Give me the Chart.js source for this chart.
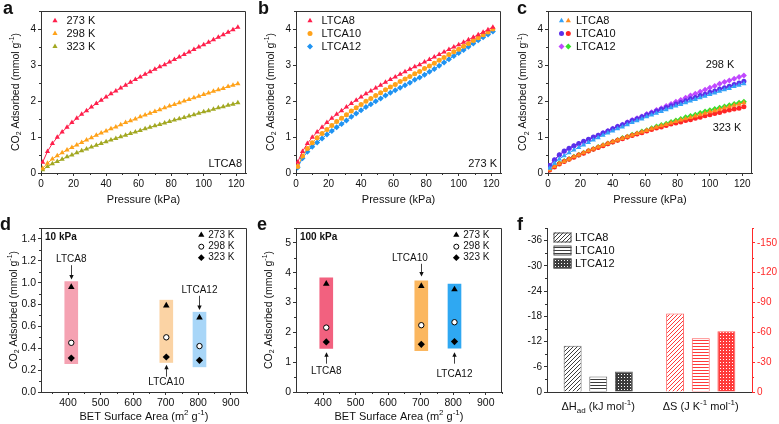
<!DOCTYPE html>
<html>
<head>
<meta charset="utf-8">
<script src="https://cdn.jsdelivr.net/npm/chart.js@4.4.0/dist/chart.umd.min.js"></script>
<style>
  body { margin: 0; background: #fff; width: 779px; height: 424px; position: relative; overflow: hidden; }
  canvas { position: absolute; }
</style>
</head>
<body>
<canvas id="ca" width="255" height="205" style="left:0;top:0"></canvas>
<canvas id="cb" width="260" height="205" style="left:255px;top:0"></canvas>
<canvas id="cc" width="264" height="205" style="left:515px;top:0"></canvas>
<canvas id="cd" width="255" height="219" style="left:0;top:205px"></canvas>
<canvas id="ce" width="260" height="219" style="left:255px;top:205px"></canvas>
<canvas id="cf" width="264" height="219" style="left:515px;top:205px"></canvas>
<script>
// pressures (kPa) of the isotherm points
const pressure = [1,4,7,10,13,16,19,22,25,28,31,34,37,40,43,46,49,52,55,58,61,64,67,70,73,76,79,82,85,88,91,94,97,100,103,106,109,112,115,118,121];

// CO2 uptake, mmol/g
const ltca8_273 = [0.30,0.60,0.82,0.99,1.14,1.27,1.40,1.52,1.63,1.73,1.83,1.93,2.02,2.11,2.20,2.28,2.36,2.44,2.52,2.60,2.67,2.74,2.81,2.88,2.95,3.01,3.08,3.15,3.22,3.29,3.36,3.43,3.50,3.56,3.63,3.70,3.77,3.84,3.91,3.98,4.05];
const ltca8_298 = [0.13,0.27,0.39,0.48,0.56,0.64,0.71,0.78,0.85,0.92,0.98,1.05,1.11,1.17,1.23,1.28,1.34,1.40,1.45,1.50,1.56,1.61,1.66,1.71,1.76,1.81,1.86,1.90,1.95,2.00,2.04,2.09,2.13,2.18,2.22,2.27,2.31,2.35,2.40,2.44,2.48];
const ltca8_323 = [0.09,0.18,0.26,0.32,0.38,0.45,0.50,0.56,0.62,0.67,0.72,0.77,0.82,0.87,0.92,0.96,1.01,1.05,1.10,1.14,1.18,1.23,1.27,1.31,1.35,1.39,1.43,1.47,1.51,1.54,1.58,1.62,1.66,1.70,1.73,1.77,1.81,1.84,1.88,1.91,1.95];
const ltca10_273 = [0.18,0.47,0.68,0.84,0.98,1.10,1.21,1.32,1.43,1.52,1.62,1.72,1.81,1.90,1.99,2.07,2.15,2.23,2.31,2.39,2.46,2.54,2.61,2.68,2.76,2.82,2.90,2.97,3.05,3.13,3.21,3.29,3.37,3.44,3.52,3.60,3.68,3.76,3.84,3.92,4.00];
const ltca12_273 = [0.15,0.41,0.59,0.73,0.85,0.96,1.07,1.17,1.27,1.36,1.46,1.56,1.65,1.74,1.83,1.91,1.99,2.07,2.15,2.23,2.30,2.37,2.44,2.51,2.59,2.65,2.73,2.81,2.89,2.98,3.07,3.16,3.25,3.33,3.42,3.51,3.60,3.69,3.77,3.85,3.93];
const ltca10_298 = [0.21,0.37,0.51,0.61,0.69,0.76,0.82,0.88,0.94,1.00,1.05,1.11,1.17,1.23,1.29,1.34,1.40,1.46,1.51,1.56,1.62,1.67,1.72,1.77,1.82,1.87,1.92,1.96,2.01,2.06,2.10,2.15,2.19,2.24,2.28,2.33,2.37,2.41,2.46,2.50,2.55];
const ltca12_298 = [0.19,0.35,0.49,0.59,0.67,0.74,0.80,0.86,0.92,0.98,1.04,1.11,1.17,1.23,1.29,1.34,1.41,1.47,1.52,1.57,1.64,1.69,1.75,1.80,1.86,1.92,1.98,2.03,2.09,2.15,2.20,2.26,2.31,2.37,2.42,2.48,2.53,2.57,2.62,2.67,2.71];
const ltca10_323 = [0.08,0.17,0.25,0.32,0.38,0.44,0.50,0.55,0.61,0.66,0.71,0.76,0.81,0.86,0.91,0.95,1.00,1.04,1.08,1.12,1.17,1.21,1.25,1.28,1.32,1.36,1.39,1.42,1.46,1.48,1.52,1.55,1.59,1.62,1.65,1.68,1.72,1.75,1.78,1.80,1.84];
const ltca12_323 = [0.10,0.19,0.27,0.33,0.39,0.45,0.51,0.56,0.62,0.67,0.72,0.77,0.82,0.87,0.92,0.97,1.01,1.06,1.10,1.15,1.19,1.24,1.29,1.33,1.37,1.42,1.46,1.50,1.55,1.58,1.62,1.67,1.71,1.74,1.78,1.81,1.85,1.88,1.92,1.95,1.98];

// BET surface area vs uptake (panels d, e)
const samples = ['LTCA8', 'LTCA10', 'LTCA12'];
const bet = [410, 702, 804];
const q10_273 = [0.96, 0.79, 0.68];
const q10_298 = [0.45, 0.50, 0.42];
const q10_323 = [0.31, 0.32, 0.29];
const band10Low = [0.26, 0.27, 0.23];
const band10High = [1.01, 0.84, 0.73];
const q100_273 = [3.63, 3.55, 3.44];
const q100_298 = [2.16, 2.24, 2.34];
const q100_323 = [1.68, 1.60, 1.69];
const band100Low = [1.46, 1.39, 1.47];
const band100High = [3.83, 3.73, 3.62];

// thermodynamics (panel f)
const params = ['dH', 'dS'];
const deltaH = [-11.0, -3.7, -4.9];   // kJ/mol
const deltaS = [-79, -54, -61];       // J/K/mol

const FONT = '"Liberation Sans", Arial, sans-serif';
Chart.defaults.font.family = FONT;
Chart.defaults.color = '#111';
Chart.defaults.animation = false;

const RED = '#ff1f4b', ORANGE = '#ffa21a', OLIVE = '#a2a822', BLUE = '#1f93f2';
const C_BLUE = '#35a2f7', C_ORANGE = '#ff8d1e', C_INDIGO = '#5a30ea', C_RED = '#ff2626', C_VIOLET = '#c048ff', C_GREEN = '#36e02c';

const CO2 = [['CO'], ['2', 'sub'], [' Adsorbed (mmol g'], ['-1', 'sup'], [')']];

function pts(ys) { return pressure.map((p, i) => ({ x: p, y: ys[i] })); }

function iso(label, ys, color, style, r) {
  return {
    label, data: pts(ys), showLine: true, borderColor: color, borderWidth: 1,
    backgroundColor: color, pointStyle: style, pointRadius: r, pointBorderWidth: 0,
    pointBackgroundColor: color
  };
}

function axis(pos, min, max, step, size, extra) {
  const a = {
    type: 'linear', position: pos, min, max,
    grid: { drawOnChartArea: false, tickLength: 3, tickColor: '#333', tickWidth: 1 },
    border: { color: '#333', width: 1 },
    ticks: { stepSize: step, includeBounds: false, autoSkip: false, maxRotation: 0, padding: 2, color: '#111', font: { size: 10 } },
    afterFit: s => { if (pos === 'bottom') s.height = size; else s.width = size; }
  };
  return Object.assign(a, extra || {});
}

function options(scales, pad, deco) {
  return {
    responsive: false, events: [],
    layout: { padding: Object.assign({ left: 0, right: 0, top: 0, bottom: 0 }, pad) },
    scales,
    plugins: { legend: { display: false }, tooltip: { enabled: false }, deco }
  };
}

// rich text with sub/superscripts
function drawRich(ctx, parts, x, y, o) {
  if (typeof parts === 'string') parts = [[parts]];
  const size = o.size || 11, w8 = o.bold ? 'bold ' : '';
  const main = w8 + size + 'px ' + FONT, small = w8 + Math.round(size * 0.7) + 'px ' + FONT;
  let w = 0;
  parts.forEach(([s, m]) => { ctx.font = m ? small : main; w += ctx.measureText(s).width; });
  ctx.save();
  ctx.translate(x, y);
  if (o.rot) ctx.rotate(o.rot);
  let cx = o.align === 'center' ? -w / 2 : o.align === 'right' ? -w : 0;
  ctx.fillStyle = o.color || '#111';
  ctx.textBaseline = o.bl || 'middle';
  ctx.textAlign = 'left';
  parts.forEach(([s, m]) => {
    ctx.font = m ? small : main;
    const dy = m === 'sub' ? size * 0.3 : m === 'sup' ? -size * 0.35 : 0;
    ctx.fillText(s, cx, dy);
    cx += ctx.measureText(s).width;
  });
  ctx.restore();
}

function hatch(kind, color) {
  const c = document.createElement('canvas');
  const n = kind === 'diag' ? 4 : 3;
  c.width = n; c.height = n;
  const g = c.getContext('2d');
  g.fillStyle = '#fff'; g.fillRect(0, 0, n, n);
  g.fillStyle = color;
  if (kind === 'diag') { for (let i = 0; i < n; i++) g.fillRect(i, n - 1 - i, 1, 1); }
  else if (kind === 'horiz') { g.fillRect(0, 0, n, 1); }
  else { g.fillRect(0, 0, n, n); g.fillStyle = '#fff'; g.fillRect(1, 1, 1, 1); }
  return g.createPattern(c, 'repeat');
}

const deco = {
  id: 'deco',
  afterDraw(chart, args, o) {
    const ctx = chart.ctx, a = chart.chartArea;
    ctx.save();
    ctx.lineWidth = 1;
    if (o.frame) {
      ctx.strokeStyle = '#333';
      ctx.beginPath();
      ctx.moveTo(a.left, Math.round(a.top) + 0.5);
      ctx.lineTo(Math.round(a.right) - 0.5, Math.round(a.top) + 0.5);
      ctx.lineTo(Math.round(a.right) - 0.5, a.bottom);
      ctx.stroke();
    }
    (o.minor || []).forEach(id => {
      const s = chart.scales[id];
      if (s.ticks.length < 2) return;
      const major = Math.abs(s.ticks[1].value - s.ticks[0].value), step = major / 2;
      const lo = Math.min(s.min, s.max), hi = Math.max(s.min, s.max);
      ctx.strokeStyle = s.options.border.color;
      ctx.beginPath();
      for (let v = Math.ceil(lo / step - 1e-9) * step; v <= hi + 1e-9; v += step) {
        if (Math.abs(v / major - Math.round(v / major)) < 1e-6) continue;
        const p = Math.round(s.getPixelForValue(v)) + 0.5;
        if (s.isHorizontal()) { ctx.moveTo(p, s.top); ctx.lineTo(p, s.top + 2); }
        else if (s.position === 'left') { ctx.moveTo(s.right, p); ctx.lineTo(s.right - 2, p); }
        else { ctx.moveTo(s.left, p); ctx.lineTo(s.left + 2, p); }
      }
      ctx.stroke();
    });
    const px = (v, sid) => sid ? chart.scales[sid].getPixelForValue(v) : v === 'cx' ? (a.left + a.right) / 2 : v;
    const py = (v, sid) => sid ? chart.scales[sid].getPixelForValue(v) : v === 'cy' ? (a.top + a.bottom) / 2 : v;
    (o.swatches || []).forEach(s => {
      ctx.fillStyle = s.fill; ctx.fillRect(s.x, s.y - s.h / 2, s.w, s.h);
      ctx.strokeStyle = s.stroke; ctx.strokeRect(s.x + 0.5, s.y - s.h / 2 + 0.5, s.w - 1, s.h - 1);
    });
    (o.marks || []).forEach(m => {
      ctx.fillStyle = m.fill; ctx.strokeStyle = m.stroke || m.fill; ctx.lineWidth = m.bw || 0;
      Chart.helpers.drawPoint(ctx, { pointStyle: m.style, rotation: 0, radius: m.r, borderWidth: m.bw || 0 }, m.x, m.y);
    });
    (o.arrows || []).forEach(r => {
      const x = Math.round(px(r.x, r.sx)) + 0.5, y1 = py(r.y1, r.sy), y2 = py(r.y2, r.sy);
      const d = y2 > y1 ? 1 : -1;
      ctx.strokeStyle = '#111'; ctx.fillStyle = '#111'; ctx.lineWidth = 0.8;
      ctx.beginPath(); ctx.moveTo(x, y1); ctx.lineTo(x, y2 - d * 3); ctx.stroke();
      ctx.beginPath(); ctx.moveTo(x, y2); ctx.lineTo(x - 2.2, y2 - d * 4.5); ctx.lineTo(x + 2.2, y2 - d * 4.5); ctx.closePath(); ctx.fill();
    });
    (o.texts || []).forEach(t => drawRich(ctx, t.t, px(t.x, t.sx), py(t.y, t.sy), t));
    ctx.restore();
  }
};
Chart.register(deco);

const YT = 10.5; // y title size

// ---- panel a
new Chart(document.getElementById('ca'), {
  type: 'scatter',
  data: { datasets: [
    iso('273 K', ltca8_273, RED, 'triangle', 3),
    iso('298 K', ltca8_298, ORANGE, 'triangle', 3),
    iso('323 K', ltca8_323, OLIVE, 'triangle', 3)
  ] },
  options: options(
    { x: axis('bottom', 0, 126, 20, 32), y: axis('left', 0, 4.5, 1, 41) },
    { top: 11, right: 9 },
    {
      frame: true, minor: ['x', 'y'],
      marks: [
        { x: 55, y: 20.7, style: 'triangle', r: 3, fill: RED },
        { x: 55, y: 33.5, style: 'triangle', r: 3, fill: ORANGE },
        { x: 55, y: 46.5, style: 'triangle', r: 3, fill: OLIVE }
      ],
      texts: [
        { t: 'a', x: 3, y: 13.5, size: 18, bold: true, bl: 'alphabetic' },
        { t: CO2, x: 16, y: 'cy', rot: -Math.PI / 2, align: 'center', size: YT },
        { t: 'Pressure (kPa)', x: 'cx', y: 200, align: 'center' },
        { t: '273 K', x: 66.5, y: 20.7 },
        { t: '298 K', x: 66.5, y: 33.5 },
        { t: '323 K', x: 66.5, y: 46.5 },
        { t: 'LTCA8', x: 242, y: 164, align: 'right' }
      ]
    })
});

// ---- panel b
new Chart(document.getElementById('cb'), {
  type: 'scatter',
  data: { datasets: [
    iso('LTCA8', ltca8_273, RED, 'triangle', 3),
    iso('LTCA10', ltca10_273, ORANGE, 'circle', 2.5),
    iso('LTCA12', ltca12_273, BLUE, 'rectRot', 3)
  ] },
  options: options(
    { x: axis('bottom', 0, 126, 20, 32), y: axis('left', 0, 4.5, 1, 41) },
    { top: 11, right: 14 },
    {
      frame: true, minor: ['x', 'y'],
      marks: [
        { x: 55, y: 20.7, style: 'triangle', r: 3, fill: RED },
        { x: 55, y: 33.5, style: 'circle', r: 2.5, fill: ORANGE },
        { x: 55, y: 46.5, style: 'rectRot', r: 3, fill: BLUE }
      ],
      texts: [
        { t: 'b', x: 3, y: 13.5, size: 18, bold: true, bl: 'alphabetic' },
        { t: CO2, x: 16, y: 'cy', rot: -Math.PI / 2, align: 'center', size: YT },
        { t: 'Pressure (kPa)', x: 'cx', y: 200, align: 'center' },
        { t: 'LTCA8', x: 66.5, y: 20.7 },
        { t: 'LTCA10', x: 66.5, y: 33.5 },
        { t: 'LTCA12', x: 66.5, y: 46.5 },
        { t: '273 K', x: 242, y: 164, align: 'right' }
      ]
    })
});

// ---- panel c
new Chart(document.getElementById('cc'), {
  type: 'scatter',
  data: { datasets: [
    iso('LTCA8 298 K', ltca8_298, C_BLUE, 'triangle', 3),
    iso('LTCA10 298 K', ltca10_298, C_INDIGO, 'circle', 2.5),
    iso('LTCA12 298 K', ltca12_298, C_VIOLET, 'rectRot', 3),
    iso('LTCA8 323 K', ltca8_323, C_ORANGE, 'triangle', 3),
    iso('LTCA10 323 K', ltca10_323, C_RED, 'circle', 2.5),
    iso('LTCA12 323 K', ltca12_323, C_GREEN, 'rectRot', 3)
  ] },
  options: options(
    { x: axis('bottom', 0, 126, 20, 32), y: axis('left', 0, 4.5, 1, 33) },
    { top: 11, right: 27 },
    {
      frame: true, minor: ['x', 'y'],
      marks: [
        { x: 46.5, y: 20.7, style: 'triangle', r: 3, fill: C_BLUE },
        { x: 53.3, y: 20.7, style: 'triangle', r: 3, fill: C_ORANGE },
        { x: 46.5, y: 33.5, style: 'circle', r: 2.5, fill: C_INDIGO },
        { x: 53.3, y: 33.5, style: 'circle', r: 2.5, fill: C_RED },
        { x: 46.5, y: 46.5, style: 'rectRot', r: 3, fill: C_VIOLET },
        { x: 53.3, y: 46.5, style: 'rectRot', r: 3, fill: C_GREEN }
      ],
      texts: [
        { t: 'c', x: 2, y: 13.5, size: 18, bold: true, bl: 'alphabetic' },
        { t: CO2, x: 8.5, y: 'cy', rot: -Math.PI / 2, align: 'center', size: YT },
        { t: 'Pressure (kPa)', x: 'cx', y: 200, align: 'center' },
        { t: 'LTCA8', x: 61, y: 20.7 },
        { t: 'LTCA10', x: 61, y: 33.5 },
        { t: 'LTCA12', x: 61, y: 46.5 },
        { t: '298 K', x: 205, y: 65, align: 'center' },
        { t: '323 K', x: 212, y: 128, align: 'center' }
      ]
    })
});

// ---- panels d, e
function betChart(id, letter, tag, q273, q298, q323, lo, hi, ymax, ystep, fmt, fills, notes) {
  const xy = ys => bet.map((x, i) => ({ x, y: ys[i] }));
  const yAx = axis('left', 0, ymax, ystep, 41);
  yAx.ticks.font = { size: 10.5 };
  yAx.ticks.callback = fmt;
  const xAx = axis('bottom', 317, 950, 100, 32, { offset: false });
  xAx.grid.offset = false;
  xAx.ticks.font = { size: 10.5 };
  new Chart(document.getElementById(id), {
    type: 'scatter',
    data: { datasets: [
      { label: '273 K', data: xy(q273), pointStyle: 'triangle', pointRadius: 3.8, pointBackgroundColor: '#000', pointBorderWidth: 0 },
      { label: '298 K', data: xy(q298), pointStyle: 'circle', pointRadius: 2.7, pointBackgroundColor: '#fff', pointBorderColor: '#000', pointBorderWidth: 1 },
      { label: '323 K', data: xy(q323), pointStyle: 'rectRot', pointRadius: 3.6, pointBackgroundColor: '#000', pointBorderWidth: 0 },
      { type: 'bar', label: 'range', data: bet.map((x, i) => ({ x, y: [lo[i], hi[i]] })), backgroundColor: fills, borderWidth: 0, barThickness: 13 }
    ] },
    options: options(
      { x: xAx, y: yAx },
      { top: 23, right: 255 - 247 + (id === 'ce' ? 5 : 0) },
      {
        frame: true, minor: ['x', 'y'],
        marks: [
          { x: 201.3, y: 30, style: 'triangle', r: 3.6, fill: '#000' },
          { x: 201.3, y: 41.7, style: 'circle', r: 2.5, fill: '#fff', stroke: '#000', bw: 1 },
          { x: 201.3, y: 52.7, style: 'rectRot', r: 3.4, fill: '#000' }
        ],
        arrows: notes.arrows,
        texts: [
          { t: letter, x: id === 'cd' ? 0 : 2, y: 24.5, size: 18, bold: true, bl: 'alphabetic' },
          { t: CO2, x: 14, y: 'cy', rot: -Math.PI / 2, align: 'center', size: YT },
          { t: [['BET Surface Area (m'], ['2', 'sup'], [' g'], ['-1', 'sup'], [')']], x: 'cx', y: 212, align: 'center' },
          { t: tag, x: 45, y: 32.3, size: 10, bold: true },
          { t: '273 K', x: 208.3, y: 30, size: 10 },
          { t: '298 K', x: 208.3, y: 41.7, size: 10 },
          { t: '323 K', x: 208.3, y: 52.7, size: 10 }
        ].concat(notes.texts)
      })
  });
}

betChart('cd', 'd', '10 kPa', q10_273, q10_298, q10_323, band10Low, band10High, 1.5, 0.2, v => v.toFixed(1),
  ['#f5a2b2', '#fbd3a4', '#a8d6f8'],
  {
    arrows: [
      { x: bet[0], y1: 1.16, y2: 1.03, sx: 'x', sy: 'y' },
      { x: bet[1], y1: 0.14, y2: 0.25, sx: 'x', sy: 'y' },
      { x: bet[2], y1: 0.88, y2: 0.75, sx: 'x', sy: 'y' }
    ],
    texts: [
      { t: samples[0], x: bet[0], y: 1.21, sx: 'x', sy: 'y', align: 'center', size: 10 },
      { t: samples[1], x: bet[1], y: 0.09, sx: 'x', sy: 'y', align: 'center', size: 10 },
      { t: samples[2], x: bet[2], y: 0.935, sx: 'x', sy: 'y', align: 'center', size: 10 }
    ]
  });

betChart('ce', 'e', '100 kPa', q100_273, q100_298, q100_323, band100Low, band100High, 5.5, 1, v => String(v),
  ['#f2617f', '#fbb75f', '#2fa8f2'],
  {
    arrows: [
      { x: bet[0], y1: 0.95, y2: 1.33, sx: 'x', sy: 'y' },
      { x: bet[1], y1: 4.3, y2: 3.87, sx: 'x', sy: 'y' },
      { x: bet[2], y1: 0.95, y2: 1.33, sx: 'x', sy: 'y' }
    ],
    texts: [
      { t: samples[0], x: bet[0], y: 0.69, sx: 'x', sy: 'y', align: 'center', size: 10 },
      { t: samples[1], x: 667, y: 4.48, sx: 'x', sy: 'y', align: 'center', size: 10 },
      { t: samples[2], x: bet[2], y: 0.61, sx: 'x', sy: 'y', align: 'center', size: 10 }
    ]
  });

// ---- panel f
const kinds = ['diag', 'horiz', 'dots'];
const GREY = '#3c3c3c', PINK = '#ff3a3a';
const fSets = [];
samples.forEach((s, i) => fSets.push({
  label: s, data: [deltaH[i], null], yAxisID: 'yL',
  backgroundColor: hatch(kinds[i], GREY), borderColor: '#666', borderWidth: 1
}));
samples.forEach((s, i) => fSets.push({
  label: s, data: [null, deltaS[i]], yAxisID: 'yR',
  backgroundColor: hatch(kinds[i], PINK), borderColor: '#ff5a5a', borderWidth: 1
}));

const yL = axis('left', -39, 0, 6, 32, { reverse: true });
const yR = axis('right', -165, 0, 30, 27, { reverse: true });
yR.border = { color: '#ff2a2a', width: 1 };
yR.grid.tickColor = '#ff2a2a';
yR.ticks.color = '#ff2a2a';

new Chart(document.getElementById('cf'), {
  type: 'bar',
  data: { labels: params, datasets: fSets },
  options: Object.assign(options(
    {
      x: { type: 'category', grid: { display: false }, border: { color: '#333' }, ticks: { display: false }, afterFit: s => { s.height = 32; } },
      yL, yR
    },
    { top: 23, right: 0 },
    {
      minor: ['yL', 'yR'],
      swatches: [
        { x: 38.5, y: 32.5, w: 18, h: 10, fill: hatch('diag', GREY), stroke: '#555' },
        { x: 38.5, y: 45.5, w: 18, h: 10, fill: hatch('horiz', GREY), stroke: '#555' },
        { x: 38.5, y: 58.5, w: 18, h: 10, fill: hatch('dots', GREY), stroke: '#555' }
      ],
      texts: [
        { t: 'f', x: 2, y: 24.5, size: 18, bold: true, bl: 'alphabetic' },
        { t: samples[0], x: 60, y: 32.5 },
        { t: samples[1], x: 60, y: 45.5 },
        { t: samples[2], x: 60, y: 58.5 },
        { t: [['ΔH'], ['ad', 'sub'], [' (kJ mol'], ['-1', 'sup'], [')']], x: 0, sx: 'x', y: 202, align: 'center' },
        { t: [['ΔS (J K'], ['-1', 'sup'], [' mol'], ['-1', 'sup'], [')']], x: 1, sx: 'x', y: 202, align: 'center' }
      ]
    }), {
      datasets: { bar: { skipNull: true, categoryPercentage: 0.75, barPercentage: 0.7 } }
    })
});
</script>
</body>
</html>
